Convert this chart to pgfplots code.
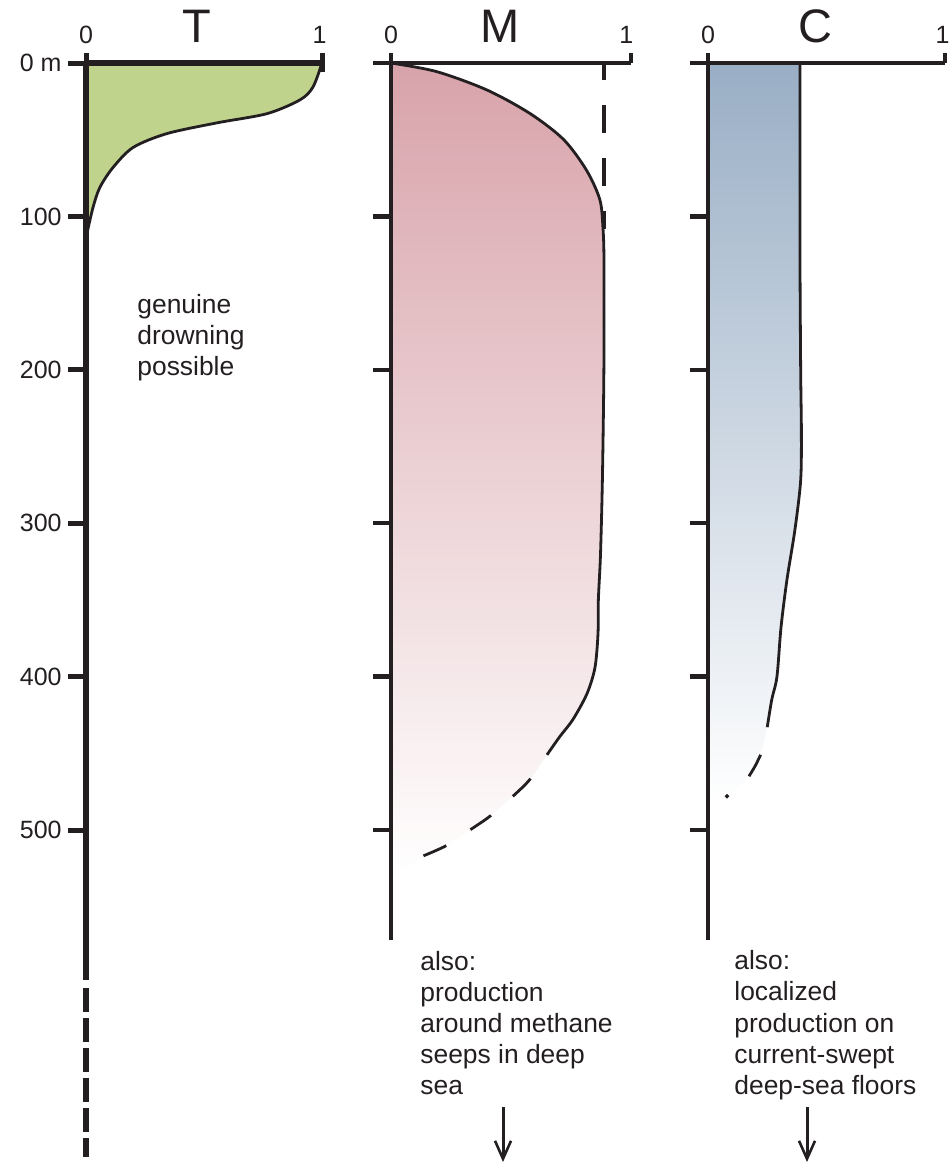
\documentclass[border=0pt]{standalone}
\usepackage{fontspec}
\setmainfont{Liberation Sans}
\usepackage{pgfplots}
\pgfplotsset{compat=1.18}
\usetikzlibrary{arrows.meta}
\definecolor{ink}{RGB}{35,31,32}
\definecolor{Tgreen}{RGB}{191,211,140}
\definecolor{Mpink}{RGB}{216,163,170}
\definecolor{Cblue}{RGB}{153,174,197}
\newcommand{\notefont}{\fontsize{13.2}{15.5}\selectfont}
\newcommand{\labfont}{\fontsize{12.5}{15}\selectfont}
\pgfplotsset{
  panel/.style={
    scale only axis, clip=false, axis on top,
    xmin=0, xmax=1, ymin=0, y dir=reverse,
    axis x line=top, axis y line=left,
    axis line style={-, ink, line width=2.2pt},
    xtick=\empty,
    ytick={0,100,200,300,400,500},
    tick align=outside,
    major tick length=9pt,
    tick style={ink, line width=2.2pt},
    yticklabel style={font=\labfont, text=ink, inner sep=0pt, xshift=-3pt},
    /pgf/number format/assume math mode=true,
    anchor=north west,
  }
}
\begin{document}
\begin{tikzpicture}
% ---------------- T ----------------
\begin{axis}[panel, at={(43pt,-31.5pt)}, width=118pt, height=458.7pt, ymax=598,
  axis line style={line width=2.7pt}, tick style={line width=2.5pt},
  yticklabels={0 m,100,200,300,400,500}]
\addplot[draw=none, fill=Tgreen, smooth] coordinates {
 (1,0) (0.962,15.6) (0.907,24) (0.767,33) (0.555,39) (0.343,46) (0.2,55)
 (0.115,68) (0.059,81) (0.03,94) (0.004,111) (0,113)} \closedcycle;
\addplot[ink, line width=1.4pt, smooth] coordinates {
 (1,0) (0.962,15.6) (0.907,24) (0.767,33) (0.555,39) (0.343,46) (0.2,55)
 (0.115,68) (0.059,81) (0.03,94) (0.004,111) (0,113)};
\draw[ink, line width=2.7pt, dash pattern=on 12pt off 3pt] (axis cs:0,603) -- (axis cs:0,713);
\draw[ink, line width=2.5pt] (axis cs:0,0) -- ++(0,5pt);
\draw[ink, line width=2.5pt] (axis cs:1,0) ++(0,-4.5pt) -- ++(0,9.5pt);
\node[font=\labfont, anchor=base, text=ink] at ([yshift=10pt]axis cs:0,0) {0};
\node[font=\labfont, anchor=base, text=ink] at ([yshift=10pt]axis cs:0.99,0) {1};
\end{axis}
% ---------------- M ----------------
\begin{axis}[panel, at={(195.5pt,-31.5pt)}, width=120pt, height=438.7pt, ymax=572,
  yticklabels={}]
\addplot[draw=none, top color=Mpink, bottom color=white, smooth] coordinates {
 (0,0) (0.19,5.6) (0.40,17.6) (0.58,33) (0.72,50) (0.815,70) (0.87,89) (0.883,107)
 (0.8875,130) (0.887,200) (0.881,270) (0.873,320) (0.864,350) (0.8625,372) (0.85,394)
 (0.817,411) (0.758,428) (0.704,439) (0.65,451) (0.579,467) (0.508,478) (0.4125,491)
 (0.329,500) (0.233,510) (0.133,517) (0.05,527) (0,532)} \closedcycle;
\addplot[ink, line width=1.4pt, smooth] coordinates {
 (0,0) (0.19,5.6) (0.40,17.6) (0.58,33) (0.72,50) (0.815,70) (0.87,89) (0.883,107)
 (0.8875,130) (0.887,200) (0.881,270) (0.873,320) (0.864,350) (0.8625,372) (0.85,394)
 (0.817,411) (0.758,428) (0.704,439) (0.65,451)};
\addplot[ink, line width=1.4pt, smooth, dash pattern=on 12.5pt off 14.5pt, dash phase=12.5pt] coordinates {
 (0.65,451) (0.579,467) (0.508,478) (0.4125,491) (0.329,500) (0.233,510) (0.133,517)};
\addplot[ink, line width=2.2pt, dash pattern=on 14pt off 12.5pt, dash phase=5.5pt] coordinates {
 (0.8875,0) (0.8875,108)};
\draw[ink, line width=2.2pt] (axis cs:0,0) -- ++(0,5pt);
\draw[ink, line width=2.2pt] (axis cs:1,0) -- ++(0,5pt);
\node[font=\labfont, anchor=base, text=ink] at ([yshift=10pt]axis cs:0,0) {0};
\node[font=\labfont, anchor=base, text=ink] at ([yshift=10pt]axis cs:0.98,0) {1};
\end{axis}
% ---------------- C ----------------
\begin{axis}[panel, at={(354pt,-31.5pt)}, width=118.5pt, height=438.7pt, ymax=572,
  yticklabels={}]
\addplot[draw=none, top color=Cblue, bottom color=white, smooth] coordinates {
 (0.388,0) (0.388,120) (0.391,200) (0.394,240) (0.391,272) (0.367,304) (0.333,337)
 (0.308,368) (0.291,400) (0.269,415) (0.25,433) (0.222,451) (0.173,465) (0.08,478) (0,484)} \closedcycle;
\addplot[ink, line width=1.4pt, smooth] coordinates {
 (0.388,0) (0.388,120) (0.391,200) (0.394,240) (0.391,272) (0.367,304) (0.333,337)
 (0.308,368) (0.291,400) (0.269,415) (0.25,433)};
\addplot[ink, line width=1.4pt, smooth] coordinates {(0.222,451) (0.2,458) (0.173,465)};
\addplot[ink, only marks, mark=*, mark size=0.9pt] coordinates {(0.08,478)};
\draw[ink, line width=2.2pt] (axis cs:0,0) -- ++(0,5pt);
\draw[ink, line width=2.2pt] (axis cs:1,0) -- ++(0,5pt);
\node[font=\labfont, anchor=base, text=ink] at ([yshift=10pt]axis cs:0,0) {0};
\node[font=\labfont, anchor=base, text=ink] at ([yshift=10pt]axis cs:0.99,0) {1};
\end{axis}
% ---------------- titles ----------------
\node[font=\fontsize{23.5}{26}\selectfont, anchor=base, text=ink] at (98.5pt,-21pt) {T};
\node[font=\fontsize{23.5}{26}\selectfont, anchor=base, text=ink] at (250pt,-21pt) {M};
\node[font=\fontsize{23.5}{26}\selectfont, anchor=base, text=ink] at (407.5pt,-21pt) {C};
% ---------------- notes ----------------
\begin{scope}[every node/.style={font=\notefont, text=ink, anchor=base west, inner sep=0pt}]
\node at (68.5pt,-156.5pt) {genuine};
\node at (68.5pt,-172pt) {drowning};
\node at (68.5pt,-187.5pt) {possible};
\node at (210pt,-485pt) {also:};
\node at (210pt,-500.5pt) {production};
\node at (210pt,-516pt) {around methane};
\node at (210pt,-531.5pt) {seeps in deep};
\node at (210pt,-547pt) {sea};
\node at (367pt,-484.5pt) {also:};
\node at (367pt,-500pt) {localized};
\node at (367pt,-516pt) {production on};
\node at (367pt,-531.5pt) {current-swept};
\node at (367pt,-547pt) {deep-sea floors};
\end{scope}
\draw[ink, line width=1.5pt, -{Straight Barb[length=9pt, width=8pt, line width=1.3pt]}] (251.5pt,-553.5pt) -- (251.5pt,-581pt);
\draw[ink, line width=1.5pt, -{Straight Barb[length=9pt, width=8pt, line width=1.3pt]}] (403.5pt,-553.5pt) -- (403.5pt,-581pt);
\pgfresetboundingbox
\useasboundingbox (0,0) rectangle (474pt,-581pt);
\end{tikzpicture}
\end{document}
